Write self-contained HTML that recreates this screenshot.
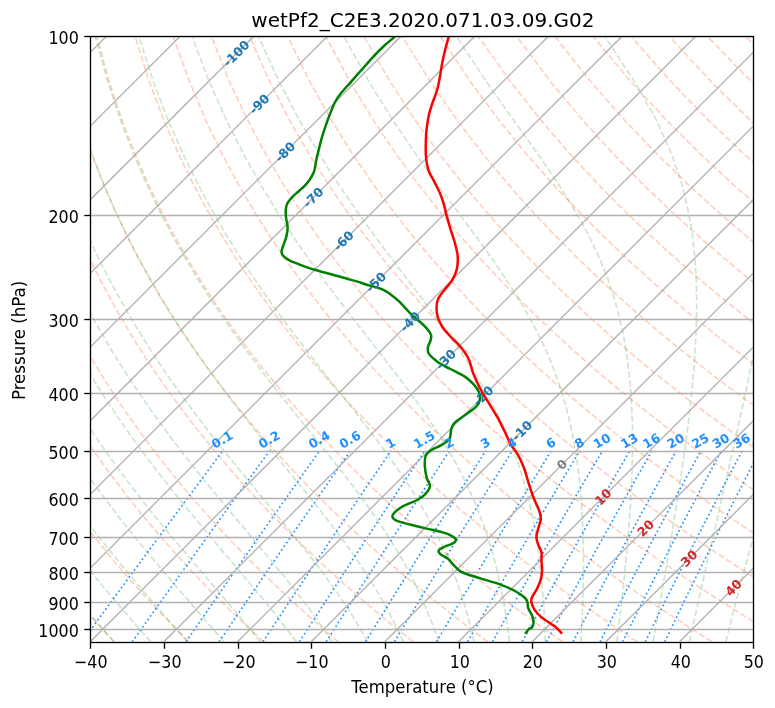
<!DOCTYPE html>
<html><head><meta charset="utf-8"><title>wetPf2_C2E3.2020.071.03.09.G02</title><style>html,body{margin:0;padding:0;background:#fff;}svg{display:block;will-change:transform;font-family:"DejaVu Sans","Liberation Sans",sans-serif;}</style></head><body>
<svg width="775" height="708" viewBox="0 0 775 708">
<defs><clipPath id="ax"><rect x="90.50" y="36.50" width="663.00" height="606.00"/></clipPath></defs>
<rect width="775" height="708" fill="#fff"/>
<g clip-path="url(#ax)">
<g fill="none" stroke="#ff4500" stroke-opacity="0.25" stroke-width="1.6667" stroke-dasharray="6.167 2.667"><path d="M114.31,641.80 L109.86,637.00 L105.38,632.11 L100.86,627.12 L96.31,622.04 L91.72,616.85 L87.09,611.56 L82.43,606.15 L77.73,600.63 L72.99,594.99 L68.21,589.23 L63.39,583.33 L58.53,577.29 L53.63,571.11 L48.69,564.77 L43.71,558.28 L38.68,551.61 L33.61,544.77 L28.49,537.75 L23.33,530.52 L18.12,523.09 L12.87,515.44 L7.57,507.55 L2.22,499.42 L-1.00,494.40"/><path d="M189.01,641.80 L184.16,637.00 L179.28,632.11 L174.35,627.12 L169.39,622.04 L164.38,616.85 L159.33,611.56 L154.23,606.15 L149.09,600.63 L143.91,594.99 L138.68,589.23 L133.40,583.33 L128.08,577.29 L122.70,571.11 L117.28,564.77 L111.80,558.28 L106.27,551.61 L100.69,544.77 L95.05,537.75 L89.36,530.52 L83.61,523.09 L77.80,515.44 L71.93,507.55 L66.01,499.42 L60.02,491.01 L53.97,482.33 L47.86,473.34 L41.69,464.03 L35.45,454.37 L29.15,444.33 L22.79,433.88 L16.36,422.99 L9.87,411.62 L3.32,399.73 L-1.00,391.57"/><path d="M263.71,641.80 L258.47,637.00 L253.18,632.11 L247.85,627.12 L242.47,622.04 L237.04,616.85 L231.56,611.56 L226.04,606.15 L220.46,600.63 L214.83,594.99 L209.15,589.23 L203.41,583.33 L197.62,577.29 L191.77,571.11 L185.86,564.77 L179.89,558.28 L173.86,551.61 L167.76,544.77 L161.61,537.75 L155.38,530.52 L149.09,523.09 L142.73,515.44 L136.30,507.55 L129.79,499.42 L123.22,491.01 L116.56,482.33 L109.83,473.34 L103.02,464.03 L96.13,454.37 L89.16,444.33 L82.10,433.88 L74.96,422.99 L67.74,411.62 L60.43,399.73 L53.04,387.26 L45.56,374.16 L38.01,360.35 L30.38,345.76 L22.69,330.29 L14.93,313.84 L7.13,296.26 L-0.70,277.40 L-1.00,276.62"/><path d="M338.41,641.80 L332.77,637.00 L327.08,632.11 L321.34,627.12 L315.55,622.04 L309.70,616.85 L303.80,611.56 L297.84,606.15 L291.83,600.63 L285.75,594.99 L279.62,589.23 L273.42,583.33 L267.16,577.29 L260.83,571.11 L254.44,564.77 L247.98,558.28 L241.45,551.61 L234.84,544.77 L228.16,537.75 L221.41,530.52 L214.57,523.09 L207.66,515.44 L200.66,507.55 L193.58,499.42 L186.41,491.01 L179.15,482.33 L171.80,473.34 L164.35,464.03 L156.80,454.37 L149.16,444.33 L141.41,433.88 L133.56,422.99 L125.60,411.62 L117.54,399.73 L109.36,387.26 L101.08,374.16 L92.68,360.35 L84.17,345.76 L75.56,330.29 L66.85,313.84 L58.04,296.26 L49.16,277.40 L40.22,257.04 L31.25,234.93 L22.30,210.75 L13.43,184.06 L4.77,154.28 L-1.00,130.86"/><path d="M413.11,641.80 L407.08,637.00 L400.99,632.11 L394.84,627.12 L388.63,622.04 L382.36,616.85 L376.04,611.56 L369.65,606.15 L363.19,600.63 L356.67,594.99 L350.09,589.23 L343.43,583.33 L336.70,577.29 L329.90,571.11 L323.02,564.77 L316.07,558.28 L309.04,551.61 L301.92,544.77 L294.72,537.75 L287.43,530.52 L280.06,523.09 L272.59,515.44 L265.03,507.55 L257.37,499.42 L249.60,491.01 L241.74,482.33 L233.76,473.34 L225.68,464.03 L217.48,454.37 L209.17,444.33 L200.73,433.88 L192.16,422.99 L183.47,411.62 L174.65,399.73 L165.69,387.26 L156.59,374.16 L147.35,360.35 L137.96,345.76 L128.43,330.29 L118.77,313.84 L108.96,296.26 L99.02,277.40 L88.96,257.04 L78.81,234.93 L68.60,210.75 L58.39,184.06 L48.26,154.28 L38.37,120.60 L28.96,81.84 L20.48,36.20"/><path d="M487.81,641.80 L481.38,637.00 L474.89,632.11 L468.33,627.12 L461.71,622.04 L455.03,616.85 L448.27,611.56 L441.45,606.15 L434.56,600.63 L427.59,594.99 L420.55,589.23 L413.44,583.33 L406.24,577.29 L398.97,571.11 L391.61,564.77 L384.16,558.28 L376.62,551.61 L369.00,544.77 L361.28,537.75 L353.46,530.52 L345.54,523.09 L337.52,515.44 L329.39,507.55 L321.15,499.42 L312.80,491.01 L304.33,482.33 L295.73,473.34 L287.01,464.03 L278.16,454.37 L269.17,444.33 L260.04,433.88 L250.76,422.99 L241.34,411.62 L231.75,399.73 L222.01,387.26 L212.10,374.16 L202.01,360.35 L191.75,345.76 L181.31,330.29 L170.68,313.84 L159.87,296.26 L148.88,277.40 L137.71,257.04 L126.38,234.93 L114.91,210.75 L103.35,184.06 L91.76,154.28 L80.27,120.60 L69.10,81.84 L58.63,36.20"/><path d="M562.51,641.80 L555.69,637.00 L548.79,632.11 L541.83,627.12 L534.79,622.04 L527.69,616.85 L520.51,611.56 L513.26,606.15 L505.93,600.63 L498.51,594.99 L491.02,589.23 L483.45,583.33 L475.78,577.29 L468.03,571.11 L460.19,564.77 L452.25,558.28 L444.21,551.61 L436.08,544.77 L427.83,537.75 L419.49,530.52 L411.03,523.09 L402.45,515.44 L393.76,507.55 L384.94,499.42 L375.99,491.01 L366.92,482.33 L357.70,473.34 L348.34,464.03 L338.84,454.37 L329.17,444.33 L319.35,433.88 L309.37,422.99 L299.20,411.62 L288.86,399.73 L278.33,387.26 L267.61,374.16 L256.68,360.35 L245.54,345.76 L234.18,330.29 L222.60,313.84 L210.79,296.26 L198.74,277.40 L186.46,257.04 L173.95,234.93 L161.22,210.75 L148.30,184.06 L135.26,154.28 L122.17,120.60 L109.24,81.84 L96.79,36.20"/><path d="M637.22,641.80 L629.99,637.00 L622.69,632.11 L615.32,627.12 L607.87,622.04 L600.35,616.85 L592.75,611.56 L585.06,606.15 L577.29,600.63 L569.44,594.99 L561.49,589.23 L553.46,583.33 L545.33,577.29 L537.10,571.11 L528.77,564.77 L520.34,558.28 L511.80,551.61 L503.15,544.77 L494.39,537.75 L485.51,530.52 L476.51,523.09 L467.38,515.44 L458.12,507.55 L448.72,499.42 L439.19,491.01 L429.50,482.33 L419.67,473.34 L409.67,464.03 L399.51,454.37 L389.18,444.33 L378.67,433.88 L367.97,422.99 L357.07,411.62 L345.97,399.73 L334.66,387.26 L323.12,374.16 L311.35,360.35 L299.33,345.76 L287.06,330.29 L274.52,313.84 L261.70,296.26 L248.60,277.40 L235.21,257.04 L221.51,234.93 L207.53,210.75 L193.26,184.06 L178.75,154.28 L164.07,120.60 L149.38,81.84 L134.94,36.20"/><path d="M711.92,641.80 L704.29,637.00 L696.59,632.11 L688.81,627.12 L680.95,622.04 L673.01,616.85 L664.98,611.56 L656.86,606.15 L648.66,600.63 L640.36,594.99 L631.96,589.23 L623.46,583.33 L614.87,577.29 L606.16,571.11 L597.35,564.77 L588.43,558.28 L579.39,551.61 L570.23,544.77 L560.95,537.75 L551.54,530.52 L541.99,523.09 L532.31,515.44 L522.49,507.55 L512.51,499.42 L502.38,491.01 L492.09,482.33 L481.64,473.34 L471.00,464.03 L460.19,454.37 L449.18,444.33 L437.98,433.88 L426.57,422.99 L414.94,411.62 L403.08,399.73 L390.98,387.26 L378.63,374.16 L366.01,360.35 L353.12,345.76 L339.93,330.29 L326.44,313.84 L312.62,296.26 L298.46,277.40 L283.95,257.04 L269.08,234.93 L253.83,210.75 L238.22,184.06 L222.25,154.28 L205.97,120.60 L189.51,81.84 L173.10,36.20"/><path d="M776.00,635.43 L770.50,632.11 L762.31,627.12 L754.04,622.04 L745.67,616.85 L737.22,611.56 L728.67,606.15 L720.02,600.63 L711.28,594.99 L702.43,589.23 L693.47,583.33 L684.41,577.29 L675.23,571.11 L665.94,564.77 L656.52,558.28 L646.98,551.61 L637.31,544.77 L627.51,537.75 L617.56,530.52 L607.48,523.09 L597.24,515.44 L586.85,507.55 L576.30,499.42 L565.58,491.01 L554.68,482.33 L543.60,473.34 L532.33,464.03 L520.87,454.37 L509.19,444.33 L497.29,433.88 L485.17,422.99 L472.81,411.62 L460.19,399.73 L447.30,387.26 L434.14,374.16 L420.68,360.35 L406.91,345.76 L392.81,330.29 L378.36,313.84 L363.53,296.26 L348.32,277.40 L332.70,257.04 L316.65,234.93 L300.14,210.75 L283.17,184.06 L265.74,154.28 L247.87,120.60 L229.65,81.84 L211.26,36.20"/><path d="M776.00,591.15 L772.90,589.23 L763.48,583.33 L753.95,577.29 L744.30,571.11 L734.52,564.77 L724.61,558.28 L714.57,551.61 L704.39,544.77 L694.06,537.75 L683.59,530.52 L672.96,523.09 L662.17,515.44 L651.21,507.55 L640.08,499.42 L628.77,491.01 L617.27,482.33 L605.57,473.34 L593.66,464.03 L581.54,454.37 L569.19,444.33 L556.61,433.88 L543.77,422.99 L530.67,411.62 L517.30,399.73 L503.63,387.26 L489.65,374.16 L475.35,360.35 L460.70,345.76 L445.68,330.29 L430.27,313.84 L414.45,296.26 L398.18,277.40 L381.45,257.04 L364.21,234.93 L346.45,210.75 L328.13,184.06 L309.24,154.28 L289.78,120.60 L269.79,81.84 L249.41,36.20"/><path d="M776.00,547.67 L771.47,544.77 L760.62,537.75 L749.61,530.52 L738.44,523.09 L727.10,515.44 L715.58,507.55 L703.87,499.42 L691.97,491.01 L679.86,482.33 L667.54,473.34 L655.00,464.03 L642.22,454.37 L629.20,444.33 L615.92,433.88 L602.37,422.99 L588.54,411.62 L574.40,399.73 L559.95,387.26 L545.16,374.16 L530.02,360.35 L514.49,345.76 L498.56,330.29 L482.19,313.84 L465.37,296.26 L448.05,277.40 L430.20,257.04 L411.78,234.93 L392.76,210.75 L373.08,184.06 L352.73,154.28 L331.68,120.60 L309.92,81.84 L287.57,36.20"/><path d="M776.00,504.94 L767.66,499.42 L755.16,491.01 L742.45,482.33 L729.51,473.34 L716.33,464.03 L702.90,454.37 L689.20,444.33 L675.23,433.88 L660.97,422.99 L646.41,411.62 L631.51,399.73 L616.28,387.26 L600.67,374.16 L584.68,360.35 L568.28,345.76 L551.43,330.29 L534.11,313.84 L516.28,296.26 L497.91,277.40 L478.94,257.04 L459.35,234.93 L439.06,210.75 L418.04,184.06 L396.23,154.28 L373.58,120.60 L350.06,81.84 L325.72,36.20"/><path d="M776.00,462.89 L763.57,454.37 L749.21,444.33 L734.55,433.88 L719.58,422.99 L704.27,411.62 L688.62,399.73 L672.60,387.26 L656.18,374.16 L639.35,360.35 L622.07,345.76 L604.30,330.29 L586.03,313.84 L567.20,296.26 L547.77,277.40 L527.69,257.04 L506.91,234.93 L485.37,210.75 L463.00,184.06 L439.72,154.28 L415.48,120.60 L390.20,81.84 L363.88,36.20"/><path d="M776.00,421.45 L762.14,411.62 L745.73,399.73 L728.92,387.26 L711.70,374.16 L694.02,360.35 L675.86,345.76 L657.18,330.29 L637.95,313.84 L618.11,296.26 L597.63,277.40 L576.44,257.04 L554.48,234.93 L531.68,210.75 L507.95,184.06 L483.22,154.28 L457.38,120.60 L430.34,81.84 L402.03,36.20"/><path d="M776.00,380.54 L767.21,374.16 L748.68,360.35 L729.65,345.76 L710.05,330.29 L689.86,313.84 L669.03,296.26 L647.49,277.40 L625.19,257.04 L602.05,234.93 L577.99,210.75 L552.91,184.06 L526.71,154.28 L499.28,120.60 L470.47,81.84 L440.19,36.20"/><path d="M776.00,340.15 L762.93,330.29 L741.78,313.84 L719.94,296.26 L697.35,277.40 L673.93,257.04 L649.61,234.93 L624.29,210.75 L597.87,184.06 L570.21,154.28 L541.18,120.60 L510.61,81.84 L478.34,36.20"/><path d="M776.00,300.22 L770.86,296.26 L747.21,277.40 L722.68,257.04 L697.18,234.93 L670.60,210.75 L642.82,184.06 L613.71,154.28 L583.08,120.60 L550.75,81.84 L516.50,36.20"/><path d="M776.00,260.67 L771.43,257.04 L744.75,234.93 L716.91,210.75 L687.78,184.06 L657.20,154.28 L624.98,120.60 L590.88,81.84 L554.65,36.20"/><path d="M776.00,221.37 L763.22,210.75 L732.74,184.06 L700.70,154.28 L666.88,120.60 L631.02,81.84 L592.81,36.20"/><path d="M776.00,182.55 L744.19,154.28 L708.78,120.60 L671.16,81.84 L630.97,36.20"/><path d="M776.00,143.64 L750.68,120.60 L711.29,81.84 L669.12,36.20"/><path d="M776.00,104.98 L751.43,81.84 L707.28,36.20"/><path d="M776.00,66.44 L745.43,36.20"/><path d="M0,0"/><path d="M0,0"/><path d="M0,0"/><path d="M0,0"/><path d="M0,0"/><path d="M0,0"/></g>
<g fill="none" stroke="#2ca02c" stroke-opacity="0.25" stroke-width="1.6667" stroke-dasharray="6.167 2.667"><path d="M113.65,641.80 L109.47,637.00 L105.24,632.11 L100.95,627.12 L96.61,622.04 L92.22,616.85 L87.76,611.56 L83.26,606.15 L78.70,600.63 L74.09,594.99 L69.42,589.23 L64.70,583.33 L59.93,577.29 L55.10,571.11 L50.23,564.77 L45.30,558.28 L40.32,551.61 L35.28,544.77 L30.19,537.75 L25.06,530.52 L19.87,523.09 L14.62,515.44 L9.33,507.55 L3.99,499.42 L-1.00,491.65"/><path d="M150.61,641.80 L146.40,637.00 L142.11,632.11 L137.76,627.12 L133.34,622.04 L128.85,616.85 L124.29,611.56 L119.67,606.15 L114.99,600.63 L110.23,594.99 L105.42,589.23 L100.53,583.33 L95.59,577.29 L90.58,571.11 L85.50,564.77 L80.37,558.28 L75.17,551.61 L69.91,544.77 L64.59,537.75 L59.20,530.52 L53.76,523.09 L48.25,515.44 L42.68,507.55 L37.05,499.42 L31.36,491.01 L25.61,482.33 L19.80,473.34 L13.93,464.03 L8.00,454.37 L2.02,444.33 L-1.00,439.11"/><path d="M187.41,641.80 L183.22,637.00 L178.95,632.11 L174.59,627.12 L170.15,622.04 L165.63,616.85 L161.02,611.56 L156.34,606.15 L151.57,600.63 L146.72,594.99 L141.80,589.23 L136.79,583.33 L131.71,577.29 L126.55,571.11 L121.31,564.77 L115.99,558.28 L110.60,551.61 L105.13,544.77 L99.59,537.75 L93.98,530.52 L88.29,523.09 L82.53,515.44 L76.69,507.55 L70.78,499.42 L64.80,491.01 L58.75,482.33 L52.63,473.34 L46.43,464.03 L40.17,454.37 L33.83,444.33 L27.43,433.88 L20.96,422.99 L14.42,411.62 L7.82,399.73 L1.15,387.26 L-1.00,383.06"/><path d="M224.00,641.80 L219.91,637.00 L215.73,632.11 L211.45,627.12 L207.07,622.04 L202.59,616.85 L198.02,611.56 L193.34,606.15 L188.56,600.63 L183.69,594.99 L178.71,589.23 L173.64,583.33 L168.47,577.29 L163.21,571.11 L157.85,564.77 L152.39,558.28 L146.85,551.61 L141.21,544.77 L135.48,537.75 L129.65,530.52 L123.74,523.09 L117.74,515.44 L111.65,507.55 L105.48,499.42 L99.22,491.01 L92.87,482.33 L86.43,473.34 L79.92,464.03 L73.31,454.37 L66.63,444.33 L59.86,433.88 L53.01,422.99 L46.07,411.62 L39.06,399.73 L31.97,387.26 L24.81,374.16 L17.58,360.35 L10.28,345.76 L2.93,330.29 L-1.00,321.56"/><path d="M260.33,641.80 L256.45,637.00 L252.46,632.11 L248.36,627.12 L244.14,622.04 L239.80,616.85 L235.34,611.56 L230.77,606.15 L226.07,600.63 L221.25,594.99 L216.32,589.23 L211.26,583.33 L206.09,577.29 L200.80,571.11 L195.39,564.77 L189.86,558.28 L184.21,551.61 L178.45,544.77 L172.58,537.75 L166.59,530.52 L160.49,523.09 L154.29,515.44 L147.97,507.55 L141.55,499.42 L135.02,491.01 L128.39,482.33 L121.65,473.34 L114.82,464.03 L107.88,454.37 L100.84,444.33 L93.69,433.88 L86.46,422.99 L79.12,411.62 L71.68,399.73 L64.15,387.26 L56.53,374.16 L48.82,360.35 L41.03,345.76 L33.15,330.29 L25.21,313.84 L17.21,296.26 L9.17,277.40 L1.12,257.04 L-1.00,251.19"/><path d="M296.40,641.80 L292.83,637.00 L289.13,632.11 L285.31,627.12 L281.36,622.04 L277.27,616.85 L273.05,611.56 L268.69,606.15 L264.20,600.63 L259.56,594.99 L254.78,589.23 L249.85,583.33 L244.78,577.29 L239.57,571.11 L234.20,564.77 L228.70,558.28 L223.04,551.61 L217.25,544.77 L211.31,537.75 L205.23,530.52 L199.01,523.09 L192.65,515.44 L186.16,507.55 L179.53,499.42 L172.77,491.01 L165.88,482.33 L158.86,473.34 L151.71,464.03 L144.44,454.37 L137.05,444.33 L129.54,433.88 L121.90,422.99 L114.15,411.62 L106.27,399.73 L98.29,387.26 L90.18,374.16 L81.97,360.35 L73.65,345.76 L65.22,330.29 L56.70,313.84 L48.10,296.26 L39.42,277.40 L30.70,257.04 L21.96,234.93 L13.25,210.75 L4.66,184.06 L-1.00,163.95"/><path d="M332.21,641.80 L329.04,637.00 L325.74,632.11 L322.30,627.12 L318.74,622.04 L315.03,616.85 L311.17,611.56 L307.16,606.15 L303.00,600.63 L298.68,594.99 L294.20,589.23 L289.54,583.33 L284.72,577.29 L279.73,571.11 L274.56,564.77 L269.21,558.28 L263.69,551.61 L257.99,544.77 L252.11,537.75 L246.05,530.52 L239.81,523.09 L233.40,515.44 L226.81,507.55 L220.05,499.42 L213.13,491.01 L206.03,482.33 L198.77,473.34 L191.36,464.03 L183.78,454.37 L176.05,444.33 L168.17,433.88 L160.14,422.99 L151.96,411.62 L143.63,399.73 L135.16,387.26 L126.55,374.16 L117.81,360.35 L108.92,345.76 L99.91,330.29 L90.76,313.84 L81.50,296.26 L72.14,277.40 L62.69,257.04 L53.17,234.93 L43.64,210.75 L34.16,184.06 L24.82,154.28 L15.79,120.60 L7.33,81.84 L-0.09,36.20"/><path d="M367.80,641.80 L365.11,637.00 L362.29,632.11 L359.34,627.12 L356.26,622.04 L353.04,616.85 L349.67,611.56 L346.15,606.15 L342.46,600.63 L338.61,594.99 L334.58,589.23 L330.38,583.33 L325.98,577.29 L321.39,571.11 L316.60,564.77 L311.60,558.28 L306.39,551.61 L300.97,544.77 L295.33,537.75 L289.47,530.52 L283.39,523.09 L277.09,515.44 L270.56,507.55 L263.81,499.42 L256.85,491.01 L249.66,482.33 L242.26,473.34 L234.65,464.03 L226.83,454.37 L218.82,444.33 L210.60,433.88 L202.19,422.99 L193.59,411.62 L184.81,399.73 L175.84,387.26 L166.70,374.16 L157.38,360.35 L147.89,345.76 L138.23,330.29 L128.41,313.84 L118.44,296.26 L108.31,277.40 L98.05,257.04 L87.69,234.93 L77.24,210.75 L66.78,184.06 L56.38,154.28 L46.19,120.60 L36.46,81.84 L27.60,36.20"/><path d="M403.25,641.80 L401.08,637.00 L398.80,632.11 L396.41,627.12 L393.90,622.04 L391.25,616.85 L388.47,611.56 L385.55,606.15 L382.47,600.63 L379.22,594.99 L375.81,589.23 L372.21,583.33 L368.42,577.29 L364.43,571.11 L360.23,564.77 L355.80,558.28 L351.15,551.61 L346.25,544.77 L341.11,537.75 L335.71,530.52 L330.04,523.09 L324.10,515.44 L317.88,507.55 L311.39,499.42 L304.61,491.01 L297.54,482.33 L290.20,473.34 L282.57,464.03 L274.66,454.37 L266.48,444.33 L258.03,433.88 L249.32,422.99 L240.36,411.62 L231.15,399.73 L221.69,387.26 L212.00,374.16 L202.09,360.35 L191.95,345.76 L181.59,330.29 L171.02,313.84 L160.24,296.26 L149.27,277.40 L138.11,257.04 L126.78,234.93 L115.30,210.75 L103.73,184.06 L92.13,154.28 L80.63,120.60 L69.44,81.84 L58.96,36.20"/><path d="M438.62,641.80 L437.01,637.00 L435.30,632.11 L433.49,627.12 L431.59,622.04 L429.57,616.85 L427.44,611.56 L425.19,606.15 L422.79,600.63 L420.26,594.99 L417.57,589.23 L414.72,583.33 L411.69,577.29 L408.47,571.11 L405.06,564.77 L401.43,558.28 L397.56,551.61 L393.46,544.77 L389.10,537.75 L384.46,530.52 L379.54,523.09 L374.31,515.44 L368.76,507.55 L362.88,499.42 L356.66,491.01 L350.08,482.33 L343.15,473.34 L335.84,464.03 L328.16,454.37 L320.10,444.33 L311.67,433.88 L302.88,422.99 L293.73,411.62 L284.22,399.73 L274.38,387.26 L264.20,374.16 L253.71,360.35 L242.91,345.76 L231.81,330.29 L220.42,313.84 L208.75,296.26 L196.81,277.40 L184.62,257.04 L172.17,234.93 L159.51,210.75 L146.65,184.06 L133.66,154.28 L120.64,120.60 L107.77,81.84 L95.39,36.20"/><path d="M474.02,641.80 L472.94,637.00 L471.80,632.11 L470.58,627.12 L469.28,622.04 L467.90,616.85 L466.43,611.56 L464.86,606.15 L463.19,600.63 L461.41,594.99 L459.50,589.23 L457.46,583.33 L455.28,577.29 L452.94,571.11 L450.44,564.77 L447.75,558.28 L444.86,551.61 L441.76,544.77 L438.42,537.75 L434.83,530.52 L430.97,523.09 L426.81,515.44 L422.34,507.55 L417.52,499.42 L412.33,491.01 L406.75,482.33 L400.75,473.34 L394.32,464.03 L387.42,454.37 L380.04,444.33 L372.17,433.88 L363.79,422.99 L354.90,411.62 L345.50,399.73 L335.59,387.26 L325.20,374.16 L314.32,360.35 L302.97,345.76 L291.19,330.29 L278.97,313.84 L266.36,296.26 L253.35,277.40 L239.98,257.04 L226.24,234.93 L212.17,210.75 L197.79,184.06 L183.15,154.28 L168.32,120.60 L153.44,81.84 L138.81,36.20"/><path d="M509.51,641.80 L508.94,637.00 L508.31,632.11 L507.64,627.12 L506.92,622.04 L506.15,616.85 L505.31,611.56 L504.40,606.15 L503.42,600.63 L502.37,594.99 L501.23,589.23 L499.99,583.33 L498.65,577.29 L497.20,571.11 L495.63,564.77 L493.93,558.28 L492.07,551.61 L490.06,544.77 L487.86,537.75 L485.47,530.52 L482.85,523.09 L480.00,515.44 L476.88,507.55 L473.47,499.42 L469.73,491.01 L465.64,482.33 L461.15,473.34 L456.22,464.03 L450.82,454.37 L444.90,444.33 L438.42,433.88 L431.33,422.99 L423.59,411.62 L415.17,399.73 L406.03,387.26 L396.17,374.16 L385.57,360.35 L374.23,345.76 L362.17,330.29 L349.42,313.84 L336.01,296.26 L321.98,277.40 L307.35,257.04 L292.17,234.93 L276.47,210.75 L260.28,184.06 L243.63,154.28 L226.59,120.60 L209.27,81.84 L191.89,36.20"/><path d="M545.14,641.80 L545.02,637.00 L544.86,632.11 L544.69,627.12 L544.48,622.04 L544.25,616.85 L543.97,611.56 L543.66,606.15 L543.31,600.63 L542.92,594.99 L542.47,589.23 L541.97,583.33 L541.40,577.29 L540.77,571.11 L540.06,564.77 L539.27,558.28 L538.39,551.61 L537.40,544.77 L536.31,537.75 L535.08,530.52 L533.71,523.09 L532.18,515.44 L530.47,507.55 L528.55,499.42 L526.41,491.01 L524.01,482.33 L521.31,473.34 L518.29,464.03 L514.88,454.37 L511.05,444.33 L506.73,433.88 L501.85,422.99 L496.35,411.62 L490.15,399.73 L483.15,387.26 L475.28,374.16 L466.45,360.35 L456.58,345.76 L445.62,330.29 L433.51,313.84 L420.27,296.26 L405.89,277.40 L390.45,257.04 L373.99,234.93 L356.61,210.75 L338.36,184.06 L319.34,154.28 L299.60,120.60 L279.24,81.84 L258.41,36.20"/><path d="M580.94,641.80 L581.20,637.00 L581.45,632.11 L581.70,627.12 L581.94,622.04 L582.17,616.85 L582.38,611.56 L582.58,606.15 L582.77,600.63 L582.93,594.99 L583.08,589.23 L583.20,583.33 L583.30,577.29 L583.36,571.11 L583.40,564.77 L583.39,558.28 L583.34,551.61 L583.24,544.77 L583.09,537.75 L582.87,530.52 L582.59,523.09 L582.22,515.44 L581.75,507.55 L581.18,499.42 L580.48,491.01 L579.64,482.33 L578.63,473.34 L577.44,464.03 L576.02,454.37 L574.34,444.33 L572.36,433.88 L570.02,422.99 L567.25,411.62 L563.99,399.73 L560.14,387.26 L555.59,374.16 L550.21,360.35 L543.84,345.76 L536.32,330.29 L527.44,313.84 L517.02,296.26 L504.87,277.40 L490.85,257.04 L474.89,234.93 L457.00,210.75 L437.30,184.06 L415.95,154.28 L393.14,120.60 L369.06,81.84 L343.87,36.20"/><path d="M616.90,641.80 L617.49,637.00 L618.09,632.11 L618.69,627.12 L619.29,622.04 L619.90,616.85 L620.52,611.56 L621.14,606.15 L621.76,600.63 L622.39,594.99 L623.02,589.23 L623.65,583.33 L624.28,577.29 L624.91,571.11 L625.54,564.77 L626.17,558.28 L626.79,551.61 L627.41,544.77 L628.01,537.75 L628.60,530.52 L629.18,523.09 L629.73,515.44 L630.26,507.55 L630.76,499.42 L631.21,491.01 L631.62,482.33 L631.97,473.34 L632.25,464.03 L632.45,454.37 L632.54,444.33 L632.51,433.88 L632.32,422.99 L631.95,411.62 L631.34,399.73 L630.45,387.26 L629.21,374.16 L627.53,360.35 L625.30,345.76 L622.37,330.29 L618.56,313.84 L613.63,296.26 L607.26,277.40 L599.04,257.04 L588.52,234.93 L575.14,210.75 L558.42,184.06 L538.03,154.28 L513.96,120.60 L486.55,81.84 L456.34,36.20"/><path d="M653.04,641.80 L653.89,637.00 L654.76,632.11 L655.64,627.12 L656.54,622.04 L657.46,616.85 L658.39,611.56 L659.35,606.15 L660.32,600.63 L661.31,594.99 L662.32,589.23 L663.35,583.33 L664.41,577.29 L665.48,571.11 L666.57,564.77 L667.69,558.28 L668.83,551.61 L669.99,544.77 L671.17,537.75 L672.37,530.52 L673.60,523.09 L674.85,515.44 L676.12,507.55 L677.42,499.42 L678.73,491.01 L680.06,482.33 L681.41,473.34 L682.77,464.03 L684.15,454.37 L685.53,444.33 L686.91,433.88 L688.28,422.99 L689.63,411.62 L690.95,399.73 L692.22,387.26 L693.41,374.16 L694.50,360.35 L695.44,345.76 L696.17,330.29 L696.61,313.84 L696.65,296.26 L696.12,277.40 L694.80,257.04 L692.35,234.93 L688.25,210.75 L681.76,184.06 L671.75,154.28 L656.67,120.60 L634.71,81.84 L604.60,36.20"/><path d="M689.32,641.80 L690.38,637.00 L691.46,632.11 L692.57,627.12 L693.70,622.04 L694.85,616.85 L696.04,611.56 L697.25,606.15 L698.49,600.63 L699.76,594.99 L701.06,589.23 L702.40,583.33 L703.77,577.29 L705.18,571.11 L706.62,564.77 L708.10,558.28 L709.62,551.61 L711.19,544.77 L712.80,537.75 L714.46,530.52 L716.16,523.09 L717.92,515.44 L719.73,507.55 L721.59,499.42 L723.52,491.01 L725.50,482.33 L727.56,473.34 L729.68,464.03 L731.87,454.37 L734.13,444.33 L736.47,433.88 L738.90,422.99 L741.41,411.62 L744.01,399.73 L746.70,387.26 L749.48,374.16 L752.36,360.35 L755.33,345.76 L758.38,330.29 L761.52,313.84 L764.71,296.26 L767.94,277.40 L771.14,257.04 L774.24,234.93 L776.00,220.02 M776.00,76.29 L767.48,36.20"/><path d="M725.74,641.80 L726.96,637.00 L728.20,632.11 L729.47,627.12 L730.78,622.04 L732.11,616.85 L733.48,611.56 L734.89,606.15 L736.33,600.63 L737.81,594.99 L739.33,589.23 L740.89,583.33 L742.49,577.29 L744.14,571.11 L745.84,564.77 L747.59,558.28 L749.39,551.61 L751.25,544.77 L753.17,537.75 L755.15,530.52 L757.19,523.09 L759.31,515.44 L761.50,507.55 L763.77,499.42 L766.12,491.01 L768.56,482.33 L771.09,473.34 L773.73,464.03 L776.00,456.02"/><path d="M762.27,641.80 L763.60,637.00 L764.96,632.11 L766.36,627.12 L767.79,622.04 L769.25,616.85 L770.76,611.56 L772.30,606.15 L773.89,600.63 L775.52,594.99 L776.00,593.33"/><path d="M0,0"/><path d="M0,0"/></g>
<g fill="none" stroke="#1e90ff" stroke-width="1.6667" stroke-dasharray="1.667 2.750"><path d="M82.01,641.80 L84.03,639.03 L86.06,636.23 L88.13,633.40 L90.21,630.54 L92.32,627.65 L94.45,624.73 L96.61,621.77 L98.79,618.78 L101.01,615.75 L103.24,612.68 L105.51,609.58 L107.80,606.44 L110.13,603.26 L112.48,600.05 L114.87,596.79 L117.28,593.49 L119.73,590.14 L122.22,586.76 L124.73,583.33 L127.28,579.85 L129.87,576.32 L132.50,572.75 L135.16,569.12 L137.86,565.44 L140.61,561.71 L143.39,557.93 L146.22,554.09 L149.09,550.19 L152.01,546.23 L154.97,542.21 L157.98,538.12 L161.05,533.97 L164.16,529.75 L167.33,525.46 L170.56,521.10 L173.84,516.66 L177.18,512.15 L180.58,507.55 L184.05,502.87 L187.58,498.11 L191.18,493.25 L194.85,488.30 L198.60,483.26 L202.42,478.11 L206.33,472.86 L210.32,467.50 L214.39,462.02 L218.56,456.43 L222.82,450.71"/><path d="M132.25,641.80 L134.21,639.03 L136.20,636.23 L138.21,633.40 L140.24,630.54 L142.29,627.65 L144.37,624.73 L146.48,621.77 L148.60,618.78 L150.76,615.75 L152.94,612.68 L155.15,609.58 L157.39,606.44 L159.65,603.26 L161.95,600.05 L164.28,596.79 L166.63,593.49 L169.02,590.14 L171.44,586.76 L173.90,583.33 L176.39,579.85 L178.91,576.32 L181.47,572.75 L184.07,569.12 L186.70,565.44 L189.38,561.71 L192.10,557.93 L194.86,554.09 L197.66,550.19 L200.51,546.23 L203.40,542.21 L206.34,538.12 L209.33,533.97 L212.37,529.75 L215.47,525.46 L218.61,521.10 L221.82,516.66 L225.08,512.15 L228.40,507.55 L231.79,502.87 L235.24,498.11 L238.76,493.25 L242.34,488.30 L246.00,483.26 L249.74,478.11 L253.55,472.86 L257.45,467.50 L261.44,462.02 L265.51,456.43 L269.67,450.71"/><path d="M185.98,641.80 L187.88,639.03 L189.81,636.23 L191.76,633.40 L193.73,630.54 L195.73,627.65 L197.75,624.73 L199.79,621.77 L201.86,618.78 L203.95,615.75 L206.07,612.68 L208.22,609.58 L210.39,606.44 L212.60,603.26 L214.83,600.05 L217.09,596.79 L219.38,593.49 L221.70,590.14 L224.05,586.76 L226.44,583.33 L228.86,579.85 L231.31,576.32 L233.80,572.75 L236.33,569.12 L238.89,565.44 L241.49,561.71 L244.14,557.93 L246.82,554.09 L249.55,550.19 L252.32,546.23 L255.13,542.21 L257.99,538.12 L260.90,533.97 L263.86,529.75 L266.87,525.46 L269.93,521.10 L273.05,516.66 L276.23,512.15 L279.46,507.55 L282.76,502.87 L286.12,498.11 L289.54,493.25 L293.04,488.30 L296.60,483.26 L300.24,478.11 L303.96,472.86 L307.76,467.50 L311.64,462.02 L315.61,456.43 L319.67,450.71"/><path d="M219.17,641.80 L221.04,639.03 L222.93,636.23 L224.84,633.40 L226.78,630.54 L228.73,627.65 L230.72,624.73 L232.72,621.77 L234.75,618.78 L236.81,615.75 L238.89,612.68 L240.99,609.58 L243.13,606.44 L245.29,603.26 L247.48,600.05 L249.69,596.79 L251.94,593.49 L254.22,590.14 L256.53,586.76 L258.87,583.33 L261.25,579.85 L263.66,576.32 L266.10,572.75 L268.58,569.12 L271.10,565.44 L273.66,561.71 L276.25,557.93 L278.89,554.09 L281.57,550.19 L284.29,546.23 L287.05,542.21 L289.86,538.12 L292.72,533.97 L295.63,529.75 L298.59,525.46 L301.60,521.10 L304.66,516.66 L307.78,512.15 L310.96,507.55 L314.20,502.87 L317.50,498.11 L320.87,493.25 L324.30,488.30 L327.81,483.26 L331.39,478.11 L335.04,472.86 L338.77,467.50 L342.59,462.02 L346.49,456.43 L350.49,450.71"/><path d="M262.98,641.80 L264.80,639.03 L266.64,636.23 L268.51,633.40 L270.39,630.54 L272.30,627.65 L274.23,624.73 L276.18,621.77 L278.16,618.78 L280.16,615.75 L282.19,612.68 L284.24,609.58 L286.32,606.44 L288.43,603.26 L290.56,600.05 L292.72,596.79 L294.91,593.49 L297.13,590.14 L299.39,586.76 L301.67,583.33 L303.99,579.85 L306.34,576.32 L308.72,572.75 L311.14,569.12 L313.59,565.44 L316.09,561.71 L318.62,557.93 L321.19,554.09 L323.80,550.19 L326.46,546.23 L329.15,542.21 L331.90,538.12 L334.69,533.97 L337.52,529.75 L340.41,525.46 L343.35,521.10 L346.34,516.66 L349.39,512.15 L352.49,507.55 L355.65,502.87 L358.88,498.11 L362.17,493.25 L365.52,488.30 L368.94,483.26 L372.44,478.11 L376.01,472.86 L379.66,467.50 L383.39,462.02 L387.20,456.43 L391.10,450.71"/><path d="M299.45,641.80 L301.23,639.03 L303.02,636.23 L304.85,633.40 L306.69,630.54 L308.55,627.65 L310.44,624.73 L312.35,621.77 L314.28,618.78 L316.24,615.75 L318.22,612.68 L320.22,609.58 L322.26,606.44 L324.32,603.26 L326.40,600.05 L328.52,596.79 L330.66,593.49 L332.83,590.14 L335.03,586.76 L337.27,583.33 L339.53,579.85 L341.83,576.32 L344.16,572.75 L346.53,569.12 L348.93,565.44 L351.37,561.71 L353.85,557.93 L356.37,554.09 L358.92,550.19 L361.52,546.23 L364.16,542.21 L366.85,538.12 L369.58,533.97 L372.35,529.75 L375.18,525.46 L378.06,521.10 L380.99,516.66 L383.97,512.15 L387.01,507.55 L390.11,502.87 L393.27,498.11 L396.49,493.25 L399.77,488.30 L403.13,483.26 L406.55,478.11 L410.05,472.86 L413.63,467.50 L417.28,462.02 L421.02,456.43 L424.84,450.71"/><path d="M326.28,641.80 L328.02,639.03 L329.79,636.23 L331.58,633.40 L333.39,630.54 L335.22,627.65 L337.08,624.73 L338.95,621.77 L340.85,618.78 L342.77,615.75 L344.72,612.68 L346.69,609.58 L348.69,606.44 L350.71,603.26 L352.77,600.05 L354.84,596.79 L356.95,593.49 L359.09,590.14 L361.25,586.76 L363.45,583.33 L365.68,579.85 L367.94,576.32 L370.23,572.75 L372.56,569.12 L374.92,565.44 L377.32,561.71 L379.75,557.93 L382.23,554.09 L384.74,550.19 L387.30,546.23 L389.90,542.21 L392.54,538.12 L395.23,533.97 L397.96,529.75 L400.74,525.46 L403.57,521.10 L406.46,516.66 L409.39,512.15 L412.38,507.55 L415.43,502.87 L418.54,498.11 L421.71,493.25 L424.95,488.30 L428.25,483.26 L431.62,478.11 L435.07,472.86 L438.59,467.50 L442.19,462.02 L445.87,456.43 L449.64,450.71"/><path d="M365.51,641.80 L367.21,639.03 L368.93,636.23 L370.67,633.40 L372.43,630.54 L374.22,627.65 L376.02,624.73 L377.85,621.77 L379.70,618.78 L381.57,615.75 L383.47,612.68 L385.39,609.58 L387.33,606.44 L389.30,603.26 L391.30,600.05 L393.33,596.79 L395.38,593.49 L397.46,590.14 L399.57,586.76 L401.71,583.33 L403.88,579.85 L406.09,576.32 L408.32,572.75 L410.59,569.12 L412.89,565.44 L415.23,561.71 L417.61,557.93 L420.02,554.09 L422.48,550.19 L424.97,546.23 L427.50,542.21 L430.08,538.12 L432.70,533.97 L435.37,529.75 L438.08,525.46 L440.84,521.10 L443.66,516.66 L446.52,512.15 L449.44,507.55 L452.42,502.87 L455.46,498.11 L458.55,493.25 L461.71,488.30 L464.94,483.26 L468.23,478.11 L471.60,472.86 L475.04,467.50 L478.55,462.02 L482.15,456.43 L485.83,450.71"/><path d="M394.39,641.80 L396.05,639.03 L397.74,636.23 L399.45,633.40 L401.17,630.54 L402.92,627.65 L404.69,624.73 L406.48,621.77 L408.29,618.78 L410.12,615.75 L411.98,612.68 L413.86,609.58 L415.77,606.44 L417.70,603.26 L419.66,600.05 L421.65,596.79 L423.66,593.49 L425.70,590.14 L427.77,586.76 L429.87,583.33 L432.00,579.85 L434.16,576.32 L436.35,572.75 L438.57,569.12 L440.83,565.44 L443.13,561.71 L445.46,557.93 L447.82,554.09 L450.23,550.19 L452.68,546.23 L455.16,542.21 L457.69,538.12 L460.26,533.97 L462.88,529.75 L465.54,525.46 L468.26,521.10 L471.02,516.66 L473.83,512.15 L476.70,507.55 L479.62,502.87 L482.60,498.11 L485.64,493.25 L488.74,488.30 L491.91,483.26 L495.15,478.11 L498.45,472.86 L501.83,467.50 L505.29,462.02 L508.82,456.43 L512.44,450.71"/><path d="M436.63,641.80 L438.24,639.03 L439.87,636.23 L441.53,633.40 L443.20,630.54 L444.89,627.65 L446.60,624.73 L448.34,621.77 L450.10,618.78 L451.87,615.75 L453.68,612.68 L455.50,609.58 L457.35,606.44 L459.22,603.26 L461.12,600.05 L463.05,596.79 L465.00,593.49 L466.98,590.14 L468.99,586.76 L471.02,583.33 L473.09,579.85 L475.18,576.32 L477.31,572.75 L479.47,569.12 L481.67,565.44 L483.89,561.71 L486.16,557.93 L488.45,554.09 L490.79,550.19 L493.17,546.23 L495.58,542.21 L498.04,538.12 L500.54,533.97 L503.08,529.75 L505.67,525.46 L508.31,521.10 L510.99,516.66 L513.72,512.15 L516.51,507.55 L519.35,502.87 L522.25,498.11 L525.21,493.25 L528.23,488.30 L531.31,483.26 L534.46,478.11 L537.67,472.86 L540.96,467.50 L544.32,462.02 L547.77,456.43 L551.29,450.71"/><path d="M467.71,641.80 L469.29,639.03 L470.88,636.23 L472.50,633.40 L474.13,630.54 L475.78,627.65 L477.45,624.73 L479.14,621.77 L480.86,618.78 L482.60,615.75 L484.35,612.68 L486.14,609.58 L487.94,606.44 L489.77,603.26 L491.63,600.05 L493.51,596.79 L495.41,593.49 L497.35,590.14 L499.31,586.76 L501.30,583.33 L503.32,579.85 L505.36,576.32 L507.44,572.75 L509.55,569.12 L511.70,565.44 L513.88,561.71 L516.09,557.93 L518.34,554.09 L520.62,550.19 L522.94,546.23 L525.30,542.21 L527.71,538.12 L530.15,533.97 L532.64,529.75 L535.17,525.46 L537.75,521.10 L540.38,516.66 L543.05,512.15 L545.78,507.55 L548.56,502.87 L551.40,498.11 L554.29,493.25 L557.25,488.30 L560.27,483.26 L563.35,478.11 L566.50,472.86 L569.72,467.50 L573.01,462.02 L576.38,456.43 L579.83,450.71"/><path d="M492.48,641.80 L494.02,639.03 L495.58,636.23 L497.16,633.40 L498.76,630.54 L500.38,627.65 L502.02,624.73 L503.68,621.77 L505.36,618.78 L507.06,615.75 L508.79,612.68 L510.54,609.58 L512.31,606.44 L514.10,603.26 L515.92,600.05 L517.76,596.79 L519.63,593.49 L521.53,590.14 L523.45,586.76 L525.40,583.33 L527.38,579.85 L529.39,576.32 L531.43,572.75 L533.51,569.12 L535.61,565.44 L537.75,561.71 L539.92,557.93 L542.12,554.09 L544.37,550.19 L546.65,546.23 L548.96,542.21 L551.32,538.12 L553.72,533.97 L556.17,529.75 L558.65,525.46 L561.19,521.10 L563.77,516.66 L566.39,512.15 L569.07,507.55 L571.81,502.87 L574.59,498.11 L577.44,493.25 L580.34,488.30 L583.31,483.26 L586.34,478.11 L589.43,472.86 L592.60,467.50 L595.84,462.02 L599.15,456.43 L602.55,450.71"/><path d="M522.33,641.80 L523.83,639.03 L525.35,636.23 L526.89,633.40 L528.45,630.54 L530.03,627.65 L531.63,624.73 L533.25,621.77 L534.89,618.78 L536.55,615.75 L538.23,612.68 L539.94,609.58 L541.66,606.44 L543.41,603.26 L545.19,600.05 L546.99,596.79 L548.81,593.49 L550.66,590.14 L552.54,586.76 L554.45,583.33 L556.38,579.85 L558.34,576.32 L560.34,572.75 L562.36,569.12 L564.41,565.44 L566.50,561.71 L568.62,557.93 L570.78,554.09 L572.97,550.19 L575.20,546.23 L577.46,542.21 L579.77,538.12 L582.11,533.97 L584.50,529.75 L586.93,525.46 L589.41,521.10 L591.93,516.66 L594.50,512.15 L597.13,507.55 L599.80,502.87 L602.53,498.11 L605.31,493.25 L608.15,488.30 L611.05,483.26 L614.02,478.11 L617.05,472.86 L620.14,467.50 L623.32,462.02 L626.56,456.43 L629.88,450.71"/><path d="M546.50,641.80 L547.97,639.03 L549.46,636.23 L550.97,633.40 L552.50,630.54 L554.05,627.65 L555.61,624.73 L557.20,621.77 L558.80,618.78 L560.43,615.75 L562.08,612.68 L563.75,609.58 L565.44,606.44 L567.15,603.26 L568.89,600.05 L570.66,596.79 L572.44,593.49 L574.26,590.14 L576.10,586.76 L577.97,583.33 L579.86,579.85 L581.78,576.32 L583.74,572.75 L585.72,569.12 L587.74,565.44 L589.78,561.71 L591.86,557.93 L593.98,554.09 L596.13,550.19 L598.31,546.23 L600.53,542.21 L602.80,538.12 L605.10,533.97 L607.44,529.75 L609.83,525.46 L612.26,521.10 L614.73,516.66 L617.26,512.15 L619.83,507.55 L622.45,502.87 L625.13,498.11 L627.86,493.25 L630.65,488.30 L633.50,483.26 L636.41,478.11 L639.39,472.86 L642.43,467.50 L645.55,462.02 L648.74,456.43 L652.00,450.71"/><path d="M573.02,641.80 L574.46,639.03 L575.91,636.23 L577.39,633.40 L578.88,630.54 L580.39,627.65 L581.91,624.73 L583.46,621.77 L585.03,618.78 L586.62,615.75 L588.23,612.68 L589.86,609.58 L591.51,606.44 L593.19,603.26 L594.89,600.05 L596.61,596.79 L598.36,593.49 L600.13,590.14 L601.93,586.76 L603.75,583.33 L605.61,579.85 L607.49,576.32 L609.40,572.75 L611.34,569.12 L613.31,565.44 L615.31,561.71 L617.34,557.93 L619.41,554.09 L621.51,550.19 L623.65,546.23 L625.82,542.21 L628.04,538.12 L630.29,533.97 L632.58,529.75 L634.92,525.46 L637.30,521.10 L639.72,516.66 L642.19,512.15 L644.71,507.55 L647.28,502.87 L649.90,498.11 L652.58,493.25 L655.31,488.30 L658.10,483.26 L660.96,478.11 L663.87,472.86 L666.86,467.50 L669.91,462.02 L673.04,456.43 L676.24,450.71"/><path d="M600.08,641.80 L601.48,639.03 L602.90,636.23 L604.33,633.40 L605.78,630.54 L607.26,627.65 L608.75,624.73 L610.26,621.77 L611.78,618.78 L613.33,615.75 L614.90,612.68 L616.49,609.58 L618.11,606.44 L619.74,603.26 L621.40,600.05 L623.08,596.79 L624.79,593.49 L626.52,590.14 L628.27,586.76 L630.05,583.33 L631.86,579.85 L633.70,576.32 L635.56,572.75 L637.46,569.12 L639.38,565.44 L641.33,561.71 L643.32,557.93 L645.34,554.09 L647.40,550.19 L649.48,546.23 L651.61,542.21 L653.77,538.12 L655.97,533.97 L658.22,529.75 L660.50,525.46 L662.83,521.10 L665.20,516.66 L667.61,512.15 L670.08,507.55 L672.59,502.87 L675.15,498.11 L677.77,493.25 L680.45,488.30 L683.18,483.26 L685.97,478.11 L688.83,472.86 L691.75,467.50 L694.74,462.02 L697.80,456.43 L700.93,450.71"/><path d="M622.56,641.80 L623.93,639.03 L625.32,636.23 L626.72,633.40 L628.14,630.54 L629.58,627.65 L631.04,624.73 L632.52,621.77 L634.01,618.78 L635.53,615.75 L637.07,612.68 L638.62,609.58 L640.20,606.44 L641.80,603.26 L643.43,600.05 L645.07,596.79 L646.74,593.49 L648.44,590.14 L650.16,586.76 L651.90,583.33 L653.67,579.85 L655.47,576.32 L657.30,572.75 L659.15,569.12 L661.04,565.44 L662.95,561.71 L664.90,557.93 L666.88,554.09 L668.89,550.19 L670.94,546.23 L673.03,542.21 L675.15,538.12 L677.31,533.97 L679.50,529.75 L681.74,525.46 L684.02,521.10 L686.35,516.66 L688.72,512.15 L691.14,507.55 L693.60,502.87 L696.12,498.11 L698.69,493.25 L701.32,488.30 L704.00,483.26 L706.74,478.11 L709.54,472.86 L712.41,467.50 L715.35,462.02 L718.35,456.43 L721.43,450.71"/><path d="M645.36,641.80 L646.70,639.03 L648.06,636.23 L649.43,633.40 L650.82,630.54 L652.22,627.65 L653.65,624.73 L655.09,621.77 L656.55,618.78 L658.04,615.75 L659.54,612.68 L661.06,609.58 L662.60,606.44 L664.17,603.26 L665.76,600.05 L667.37,596.79 L669.00,593.49 L670.66,590.14 L672.34,586.76 L674.05,583.33 L675.78,579.85 L677.54,576.32 L679.33,572.75 L681.14,569.12 L682.99,565.44 L684.87,561.71 L686.77,557.93 L688.71,554.09 L690.68,550.19 L692.69,546.23 L694.73,542.21 L696.81,538.12 L698.92,533.97 L701.08,529.75 L703.27,525.46 L705.51,521.10 L707.79,516.66 L710.11,512.15 L712.48,507.55 L714.90,502.87 L717.37,498.11 L719.89,493.25 L722.46,488.30 L725.09,483.26 L727.78,478.11 L730.53,472.86 L733.34,467.50 L736.23,462.02 L739.18,456.43 L742.20,450.71"/><path d="M664.86,641.80 L666.17,639.03 L667.50,636.23 L668.84,633.40 L670.20,630.54 L671.58,627.65 L672.98,624.73 L674.39,621.77 L675.83,618.78 L677.28,615.75 L678.75,612.68 L680.24,609.58 L681.76,606.44 L683.29,603.26 L684.85,600.05 L686.43,596.79 L688.03,593.49 L689.66,590.14 L691.31,586.76 L692.98,583.33 L694.68,579.85 L696.41,576.32 L698.16,572.75 L699.95,569.12 L701.76,565.44 L703.60,561.71 L705.47,557.93 L707.37,554.09 L709.31,550.19 L711.28,546.23 L713.28,542.21 L715.32,538.12 L717.40,533.97 L719.52,529.75 L721.67,525.46 L723.87,521.10 L726.11,516.66 L728.39,512.15 L730.72,507.55 L733.09,502.87 L735.52,498.11 L738.00,493.25 L740.53,488.30 L743.12,483.26 L745.76,478.11 L748.46,472.86 L751.23,467.50 L754.07,462.02 L756.97,456.43 L759.94,450.71"/></g>
<g fill="none" stroke="#b0b0b0" stroke-width="1.333"><path d="M90.20,36.50 L754.20,36.50"/><path d="M90.20,215.50 L754.20,215.50"/><path d="M90.20,319.50 L754.20,319.50"/><path d="M90.20,393.50 L754.20,393.50"/><path d="M90.20,451.50 L754.20,451.50"/><path d="M90.20,498.50 L754.20,498.50"/><path d="M90.20,537.50 L754.20,537.50"/><path d="M90.20,572.50 L754.20,572.50"/><path d="M90.20,602.50 L754.20,602.50"/><path d="M90.20,629.50 L754.20,629.50"/><path d="M-1088.47,641.80 L-482.87,36.20"/><path d="M-1014.80,641.80 L-409.20,36.20"/><path d="M-941.13,641.80 L-335.53,36.20"/><path d="M-867.47,641.80 L-261.87,36.20"/><path d="M-793.80,641.80 L-188.20,36.20"/><path d="M-720.13,641.80 L-114.53,36.20"/><path d="M-646.47,641.80 L-40.87,36.20"/><path d="M-572.80,641.80 L32.80,36.20"/><path d="M-499.13,641.80 L106.47,36.20"/><path d="M-425.47,641.80 L180.13,36.20"/><path d="M-351.80,641.80 L253.80,36.20"/><path d="M-278.13,641.80 L327.47,36.20"/><path d="M-204.47,641.80 L401.13,36.20"/><path d="M-130.80,641.80 L474.80,36.20"/><path d="M-57.13,641.80 L548.47,36.20"/><path d="M16.53,641.80 L622.13,36.20"/><path d="M90.20,641.80 L695.80,36.20"/><path d="M163.87,641.80 L769.47,36.20"/><path d="M237.53,641.80 L843.13,36.20"/><path d="M311.20,641.80 L916.80,36.20"/><path d="M384.87,641.80 L990.47,36.20"/><path d="M458.53,641.80 L1064.13,36.20"/><path d="M532.20,641.80 L1137.80,36.20"/><path d="M605.87,641.80 L1211.47,36.20"/><path d="M679.53,641.80 L1285.13,36.20"/><path d="M753.20,641.80 L1358.80,36.20"/></g>
<path d="M394.40,37.10 C392.75,38.50 388.03,42.22 384.50,45.50 C380.97,48.78 376.97,52.80 373.20,56.80 C369.43,60.80 365.67,65.25 361.90,69.50 C358.13,73.75 354.13,78.28 350.60,82.30 C347.07,86.32 343.28,90.32 340.70,93.60 C338.12,96.88 336.75,98.95 335.10,102.00 C333.45,105.05 332.22,108.37 330.80,111.90 C329.38,115.43 328.00,119.20 326.60,123.20 C325.20,127.20 323.67,131.67 322.40,135.90 C321.13,140.13 320.03,144.50 319.00,148.60 C317.97,152.70 316.95,156.93 316.20,160.50 C315.45,164.07 315.12,167.60 314.50,170.00 C313.88,172.40 313.33,173.25 312.50,174.90 C311.67,176.55 310.82,178.08 309.50,179.90 C308.18,181.72 306.40,183.92 304.60,185.80 C302.80,187.68 300.52,189.55 298.70,191.20 C296.88,192.85 295.27,194.13 293.70,195.70 C292.13,197.27 290.45,199.12 289.30,200.60 C288.15,202.08 287.38,203.12 286.80,204.60 C286.22,206.08 285.97,207.85 285.80,209.50 C285.63,211.15 285.72,212.85 285.80,214.50 C285.88,216.15 286.05,217.77 286.30,219.40 C286.55,221.03 287.08,222.65 287.30,224.30 C287.52,225.95 287.68,227.65 287.60,229.30 C287.52,230.95 287.13,232.55 286.80,234.20 C286.47,235.85 286.30,237.00 285.60,239.20 C284.90,241.40 283.27,245.22 282.60,247.40 C281.93,249.58 281.45,250.85 281.60,252.30 C281.75,253.75 282.20,254.75 283.50,256.10 C284.80,257.45 286.82,259.03 289.40,260.40 C291.98,261.77 294.82,262.75 299.00,264.30 C303.18,265.85 309.02,268.00 314.50,269.70 C319.98,271.40 325.77,272.80 331.90,274.50 C338.03,276.20 345.17,278.12 351.30,279.90 C357.43,281.68 363.53,283.62 368.70,285.20 C373.87,286.78 378.75,287.95 382.30,289.40 C385.85,290.85 387.17,291.87 390.00,293.90 C392.83,295.93 395.95,298.38 399.30,301.60 C402.65,304.82 407.13,310.23 410.10,313.20 C413.07,316.17 414.52,317.07 417.10,319.40 C419.68,321.73 423.28,324.62 425.60,327.20 C427.92,329.78 430.22,332.58 431.00,334.90 C431.78,337.22 430.82,339.03 430.30,341.10 C429.78,343.17 428.17,345.23 427.90,347.30 C427.63,349.37 427.53,351.43 428.70,353.50 C429.87,355.57 432.83,357.90 434.90,359.70 C436.97,361.50 438.52,362.75 441.10,364.30 C443.68,365.85 446.38,366.90 450.40,369.00 C454.42,371.10 461.28,374.28 465.20,376.90 C469.12,379.52 471.58,382.12 473.90,384.70 C476.22,387.28 478.13,389.82 479.10,392.40 C480.07,394.98 480.08,397.93 479.70,400.20 C479.32,402.47 478.25,404.23 476.80,406.00 C475.35,407.77 473.48,408.93 471.00,410.80 C468.52,412.67 464.72,415.10 461.90,417.20 C459.08,419.30 455.88,421.33 454.10,423.40 C452.32,425.47 451.97,427.02 451.20,429.60 C450.43,432.18 451.15,436.32 449.50,438.90 C447.85,441.48 444.38,443.20 441.30,445.10 C438.22,447.00 433.58,448.58 431.00,450.30 C428.42,452.02 426.83,452.83 425.80,455.40 C424.77,457.97 424.63,461.92 424.80,465.70 C424.97,469.48 425.95,474.65 426.80,478.10 C427.65,481.55 430.23,483.65 429.90,486.40 C429.57,489.15 426.92,492.33 424.80,494.60 C422.68,496.87 420.80,498.07 417.20,500.00 C413.60,501.93 406.95,504.13 403.20,506.20 C399.45,508.27 396.50,510.60 394.70,512.40 C392.90,514.20 392.02,515.58 392.40,517.00 C392.78,518.42 393.90,519.60 397.00,520.90 C400.10,522.20 406.08,523.52 411.00,524.80 C415.92,526.08 421.60,527.45 426.50,528.60 C431.40,529.75 436.53,530.67 440.40,531.70 C444.27,532.73 447.12,533.50 449.70,534.80 C452.28,536.10 455.38,538.07 455.90,539.50 C456.42,540.93 454.62,542.23 452.80,543.40 C450.98,544.57 447.33,545.35 445.00,546.50 C442.67,547.65 439.57,549.02 438.80,550.30 C438.03,551.58 438.85,552.78 440.40,554.20 C441.95,555.62 445.73,556.80 448.10,558.80 C450.47,560.80 452.48,564.07 454.60,566.20 C456.72,568.33 458.47,570.18 460.80,571.60 C463.13,573.02 465.23,573.53 468.60,574.70 C471.97,575.87 475.58,576.92 481.00,578.60 C486.42,580.28 495.43,582.73 501.10,584.80 C506.77,586.87 511.13,588.93 515.00,591.00 C518.87,593.07 522.23,595.40 524.30,597.20 C526.37,599.00 526.75,600.00 527.40,601.80 C528.05,603.60 527.42,605.68 528.20,608.00 C528.98,610.32 531.20,613.38 532.10,615.70 C533.00,618.02 533.60,619.95 533.60,621.90 C533.60,623.85 532.87,626.23 532.10,627.40 C531.33,628.57 530.03,628.00 529.00,628.90 C527.97,629.80 526.42,632.15 525.90,632.80" fill="none" stroke="#008000" stroke-width="2.5" stroke-linejoin="round" stroke-linecap="square"/>
<g font-family="DejaVu Sans" font-weight="bold" font-size="12.6px" text-anchor="middle"><text x="0" y="3.28" transform="translate(237.06,54.34) rotate(-45)" fill="#1f77b4">-100</text><text x="0" y="3.28" transform="translate(260.12,104.95) rotate(-45)" fill="#1f77b4">-90</text><text x="0" y="3.28" transform="translate(285.86,152.87) rotate(-45)" fill="#1f77b4">-80</text><text x="0" y="3.28" transform="translate(314.03,198.37) rotate(-45)" fill="#1f77b4">-70</text><text x="0" y="3.28" transform="translate(344.38,241.69) rotate(-45)" fill="#1f77b4">-60</text><text x="0" y="3.28" transform="translate(376.71,283.02) rotate(-45)" fill="#1f77b4">-50</text><text x="0" y="3.28" transform="translate(410.86,322.54) rotate(-45)" fill="#1f77b4">-40</text><text x="0" y="3.28" transform="translate(446.67,360.39) rotate(-45)" fill="#1f77b4">-30</text><text x="0" y="3.28" transform="translate(484.01,396.72) rotate(-45)" fill="#1f77b4">-20</text><text x="0" y="3.28" transform="translate(522.75,431.65) rotate(-45)" fill="#1f77b4">-10</text><text x="0" y="3.28" transform="translate(562.80,465.27) rotate(-45)" fill="#808080">0</text><text x="0" y="3.28" transform="translate(604.05,497.68) rotate(-45)" fill="#d62728">10</text><text x="0" y="3.28" transform="translate(646.44,528.96) rotate(-45)" fill="#d62728">20</text><text x="0" y="3.28" transform="translate(689.86,559.20) rotate(-45)" fill="#d62728">30</text><text x="0" y="3.28" transform="translate(734.28,588.46) rotate(-45)" fill="#d62728">40</text></g>
<path d="M448.70,36.80 C448.05,39.22 445.93,46.63 444.80,51.30 C443.67,55.97 442.70,60.60 441.90,64.80 C441.10,69.00 440.80,72.30 440.00,76.50 C439.20,80.70 438.38,85.50 437.10,90.00 C435.82,94.50 433.68,99.30 432.30,103.50 C430.92,107.70 429.77,110.78 428.80,115.20 C427.83,119.62 426.98,125.78 426.50,130.00 C426.02,134.22 426.00,136.17 425.90,140.50 C425.80,144.83 425.48,151.08 425.90,156.00 C426.32,160.92 427.07,165.83 428.40,170.00 C429.73,174.17 431.92,177.02 433.90,181.00 C435.88,184.98 438.62,189.92 440.30,193.90 C441.98,197.88 442.93,201.23 444.00,204.90 C445.07,208.57 445.63,211.92 446.70,215.90 C447.77,219.88 449.02,224.22 450.40,228.80 C451.78,233.38 453.78,238.82 455.00,243.40 C456.22,247.98 457.40,252.00 457.70,256.30 C458.00,260.60 457.72,265.22 456.80,269.20 C455.88,273.18 454.18,276.83 452.20,280.20 C450.22,283.57 447.27,286.22 444.90,289.40 C442.53,292.58 439.40,296.10 438.00,299.30 C436.60,302.50 436.50,305.50 436.50,308.60 C436.50,311.70 436.98,314.80 438.00,317.90 C439.02,321.00 440.53,324.10 442.60,327.20 C444.67,330.30 447.82,333.67 450.40,336.50 C452.98,339.33 455.78,341.63 458.10,344.20 C460.42,346.77 462.48,349.32 464.30,351.90 C466.12,354.48 467.70,356.68 469.00,359.70 C470.30,362.72 471.28,367.45 472.10,370.00 C472.92,372.55 472.80,372.40 473.90,375.00 C475.00,377.60 477.10,382.37 478.70,385.60 C480.30,388.83 481.72,391.33 483.50,394.40 C485.28,397.47 487.30,400.57 489.40,404.00 C491.50,407.43 494.48,412.28 496.10,415.00 C497.72,417.72 497.57,417.35 499.10,420.30 C500.63,423.25 503.40,428.73 505.30,432.70 C507.20,436.67 508.43,440.48 510.50,444.10 C512.57,447.72 515.47,450.45 517.70,454.40 C519.93,458.35 522.02,462.82 523.90,467.80 C525.78,472.78 527.45,479.48 529.00,484.30 C530.55,489.12 532.07,493.60 533.20,496.70 C534.33,499.80 534.73,500.38 535.80,502.90 C536.87,505.42 538.77,509.05 539.60,511.80 C540.43,514.55 541.02,516.65 540.80,519.40 C540.58,522.15 539.03,525.33 538.30,528.30 C537.57,531.27 536.40,534.45 536.40,537.20 C536.40,539.95 537.45,542.25 538.30,544.80 C539.15,547.35 540.97,549.73 541.50,552.50 C542.03,555.27 541.40,558.35 541.50,561.40 C541.60,564.45 542.25,567.68 542.10,570.80 C541.95,573.92 541.50,577.00 540.60,580.10 C539.70,583.20 538.12,586.55 536.70,589.40 C535.28,592.25 533.00,595.13 532.10,597.20 C531.20,599.27 530.92,599.73 531.30,601.80 C531.68,603.87 532.72,607.02 534.40,609.60 C536.08,612.18 538.70,614.98 541.40,617.30 C544.10,619.62 548.03,621.70 550.60,623.50 C553.17,625.30 555.03,626.55 556.80,628.10 C558.57,629.65 560.47,632.02 561.20,632.80" fill="none" stroke="#ff0000" stroke-width="2.5" stroke-linejoin="round" stroke-linecap="square"/>
<g font-family="DejaVu Sans" font-weight="bold" font-size="12.6px" fill="#1e90ff" text-anchor="middle"><text x="0" y="3.28" transform="translate(222.82,440.68) rotate(-30)">0.1</text><text x="0" y="3.28" transform="translate(269.67,440.68) rotate(-30)">0.2</text><text x="0" y="3.28" transform="translate(319.67,440.68) rotate(-30)">0.4</text><text x="0" y="3.28" transform="translate(350.49,440.68) rotate(-30)">0.6</text><text x="0" y="3.28" transform="translate(391.10,444.07) rotate(-30)">1</text><text x="0" y="3.28" transform="translate(424.84,440.68) rotate(-30)">1.5</text><text x="0" y="3.28" transform="translate(449.64,444.07) rotate(-30)">2</text><text x="0" y="3.28" transform="translate(485.83,444.07) rotate(-30)">3</text><text x="0" y="3.28" transform="translate(512.44,444.07) rotate(-30)">4</text><text x="0" y="3.28" transform="translate(551.29,444.07) rotate(-30)">6</text><text x="0" y="3.28" transform="translate(579.83,444.07) rotate(-30)">8</text><text x="0" y="3.28" transform="translate(602.55,441.87) rotate(-30)">10</text><text x="0" y="3.28" transform="translate(629.88,441.87) rotate(-30)">13</text><text x="0" y="3.28" transform="translate(652.00,441.87) rotate(-30)">16</text><text x="0" y="3.28" transform="translate(676.24,441.87) rotate(-30)">20</text><text x="0" y="3.28" transform="translate(700.93,441.87) rotate(-30)">25</text><text x="0" y="3.28" transform="translate(721.43,441.87) rotate(-30)">30</text><text x="0" y="3.28" transform="translate(742.20,441.87) rotate(-30)">36</text><text x="0" y="3.28" transform="translate(759.94,441.87) rotate(-30)">42</text></g>
</g>
<rect x="90.50" y="36.50" width="663.00" height="606.00" fill="none" stroke="#000" stroke-width="1.333" stroke-linecap="square"/>
<g stroke="#000" stroke-width="1.333"><path d="M90.50,642.50 L90.50,648.73"/><path d="M164.50,642.50 L164.50,648.73"/><path d="M238.50,642.50 L238.50,648.73"/><path d="M311.50,642.50 L311.50,648.73"/><path d="M385.50,642.50 L385.50,648.73"/><path d="M459.50,642.50 L459.50,648.73"/><path d="M532.50,642.50 L532.50,648.73"/><path d="M606.50,642.50 L606.50,648.73"/><path d="M680.50,642.50 L680.50,648.73"/><path d="M753.50,642.50 L753.50,648.73"/><path d="M90.50,36.50 L84.27,36.50"/><path d="M90.50,215.50 L84.27,215.50"/><path d="M90.50,319.50 L84.27,319.50"/><path d="M90.50,393.50 L84.27,393.50"/><path d="M90.50,451.50 L84.27,451.50"/><path d="M90.50,498.50 L84.27,498.50"/><path d="M90.50,537.50 L84.27,537.50"/><path d="M90.50,572.50 L84.27,572.50"/><path d="M90.50,602.50 L84.27,602.50"/><path d="M90.50,629.50 L84.27,629.50"/></g>
<g font-family="DejaVu Sans" font-size="16.667px" fill="#000"><text transform="translate(90.80,667.50) scale(0.955,1.07)" text-anchor="middle">−40</text><text transform="translate(164.80,667.50) scale(0.955,1.07)" text-anchor="middle">−30</text><text transform="translate(238.80,667.50) scale(0.955,1.07)" text-anchor="middle">−20</text><text transform="translate(311.80,667.50) scale(0.955,1.07)" text-anchor="middle">−10</text><text transform="translate(385.80,667.50) scale(0.955,1.07)" text-anchor="middle">0</text><text transform="translate(459.80,667.50) scale(0.955,1.07)" text-anchor="middle">10</text><text transform="translate(532.80,667.50) scale(0.955,1.07)" text-anchor="middle">20</text><text transform="translate(606.80,667.50) scale(0.955,1.07)" text-anchor="middle">30</text><text transform="translate(680.80,667.50) scale(0.955,1.07)" text-anchor="middle">40</text><text transform="translate(753.80,667.50) scale(0.955,1.07)" text-anchor="middle">50</text><text transform="translate(78.8,43.70) scale(0.955,1.07)" text-anchor="end">100</text><text transform="translate(78.8,222.70) scale(0.955,1.07)" text-anchor="end">200</text><text transform="translate(78.8,326.70) scale(0.955,1.07)" text-anchor="end">300</text><text transform="translate(78.8,400.70) scale(0.955,1.07)" text-anchor="end">400</text><text transform="translate(78.8,458.70) scale(0.955,1.07)" text-anchor="end">500</text><text transform="translate(78.8,505.70) scale(0.955,1.07)" text-anchor="end">600</text><text transform="translate(78.8,544.70) scale(0.955,1.07)" text-anchor="end">700</text><text transform="translate(78.8,579.70) scale(0.955,1.07)" text-anchor="end">800</text><text transform="translate(78.8,609.70) scale(0.955,1.07)" text-anchor="end">900</text><text transform="translate(78.8,636.70) scale(0.955,1.07)" text-anchor="end">1000</text><text transform="translate(422.50,693) scale(0.99,1.05)" text-anchor="middle">Temperature (°C)</text><text transform="translate(25.3,340.40) rotate(-90) scale(1,1.06)" text-anchor="middle">Pressure (hPa)</text></g>
<text x="422.90" y="26.5" text-anchor="middle" font-family="DejaVu Sans" font-size="20px" fill="#000">wetPf2_C2E3.2020.071.03.09.G02</text>
</svg>
</body></html>
